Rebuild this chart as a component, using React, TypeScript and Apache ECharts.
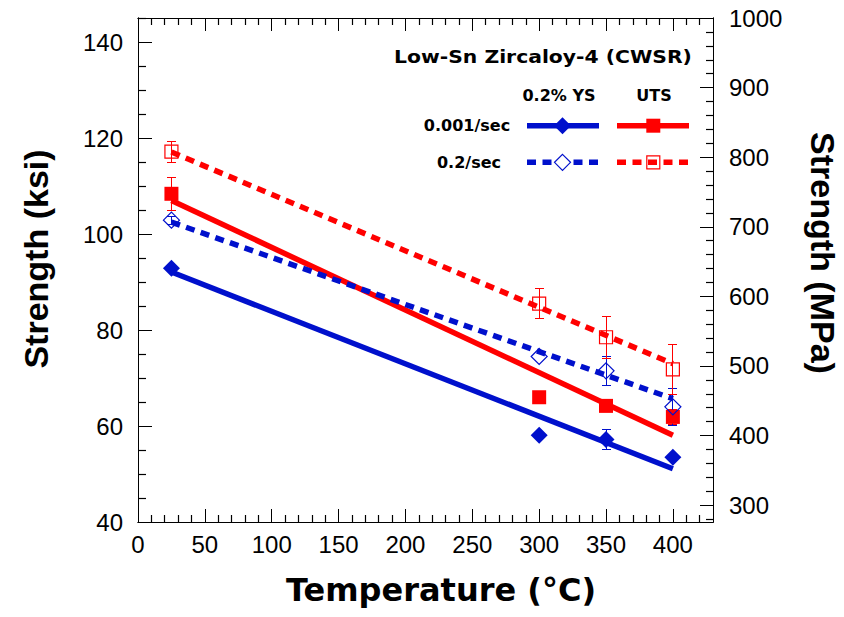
import React, { useEffect, useRef } from 'react';
import * as echarts from 'echarts';

// ---- data ----
const temps = [25, 300, 350, 400];
const ys001 = [92.9, 58.1, 57.2, 53.5];
const uts001 = [108.4, 66.0, 64.2, 61.9];
const ys02 = [102.9, 74.5, 71.5, 64.0];
const uts02 = [117.2, 85.5, 78.5, 71.8];

const ys001Err = [0.6, 0, 2.1, 0];
const uts001Err = [3.4, 0, 0, 1.5];
const ys02Err = [0.8, 0, 3.0, 3.8];
const uts02Err = [2.2, 3.1, 4.4, 5.2];

const fitTemps = [25, 400];
const ys001Fit = [92.1, 51.1];
const uts001Fit = [107.0, 58.1];
const ys02Fit = [102.5, 65.7];
const uts02Fit = [117.1, 73.0];

const xTicks = [0, 50, 100, 150, 200, 250, 300, 350, 400];
const ksiTicks = [40, 60, 80, 100, 120, 140];
const mpaTicks = [300, 400, 500, 600, 700, 800, 900, 1000];

const KSI_TO_MPA = 6.894757;
const KSI_MIN = 40;
const MPA_MAX = 1000;
const KSI_MAX = MPA_MAX / KSI_TO_MPA;
const MPA_MIN = KSI_MIN * KSI_TO_MPA;
const X_MAX = 430;

const BLUE = '#0010cc';
const RED = '#ff0000';
const AXIS = '#000';
const DASH = [9, 6.5];

function steps(from: number, to: number, step: number) {
  const out: number[] = [];
  for (let v = from; v <= to + 1e-9; v += step) out.push(Math.round(v * 1000) / 1000);
  return out;
}

const crisp = (v: number) => Math.round(v - 0.5) + 0.5;

export default function App() {
  const ref = useRef<HTMLDivElement>(null);

  useEffect(() => {
    const chart = echarts.init(ref.current as HTMLDivElement, null, { renderer: 'svg' });

    const xMinor = steps(10, 420, 10).filter((v) => v % 50 !== 0);
    const ksiMinor = steps(45, 145, 5).filter((v) => v % 20 !== 0);
    const mpaMinor = steps(280, 980, 20).filter((v) => v % 100 !== 0);

    const labelStyle = {
      fontFamily: 'Liberation Sans, Arial, sans-serif',
      fontSize: 24,
      color: '#000',
      formatter: (v: number) => String(v),
    };
    const tickLine = { color: AXIS, width: 1 };
    const minorLine = { color: AXIS, width: 1.2 };

    const fitLine = (name: string, vals: number[], color: string, dashed: boolean) => ({
      type: 'line',
      name,
      xAxisIndex: 0,
      yAxisIndex: 0,
      data: fitTemps.map((t, i) => [t, vals[i]]),
      symbol: 'none',
      silent: true,
      z: 2,
      lineStyle: { color, width: 5.5, type: dashed ? DASH : 'solid', cap: 'butt', opacity: 1 },
    });

    const errSeries = (name: string, vals: number[], errs: number[], color: string) => ({
      type: 'custom',
      name,
      xAxisIndex: 0,
      yAxisIndex: 0,
      silent: true,
      z: 3,
      clip: false,
      data: temps.map((t, i) => [t, vals[i], errs[i]]).filter((d) => d[2] > 0),
      encode: { x: 0, y: 1 },
      renderItem: (params: any, api: any) => {
        const x = api.value(0);
        const y = api.value(1);
        const e = api.value(2);
        const top = api.coord([x, y + e]);
        const bot = api.coord([x, y - e]);
        const cx = crisp(top[0]);
        const ty = crisp(top[1]);
        const by = crisp(bot[1]);
        const w = 4.5;
        const st = { stroke: color, lineWidth: 1 };
        return {
          type: 'group',
          children: [
            { type: 'line', shape: { x1: cx, y1: ty, x2: cx, y2: by }, style: st },
            { type: 'line', shape: { x1: cx - w, y1: ty, x2: cx + w, y2: ty }, style: st },
            { type: 'line', shape: { x1: cx - w, y1: by, x2: cx + w, y2: by }, style: st },
          ],
        };
      },
    });

    const scatter = (name: string, vals: number[], symbol: string, size: number, color: string, open: boolean) => ({
      type: 'scatter',
      name,
      xAxisIndex: 0,
      yAxisIndex: 0,
      z: 4,
      silent: true,
      data: temps.map((t, i) => [t, vals[i]]),
      symbol,
      symbolSize: size,
      itemStyle: open
        ? { color: 'rgba(0,0,0,0)', borderColor: color, borderWidth: 1.2, opacity: 1 }
        : { color, opacity: 1 },
    });

    // legend geometry
    const lgL1 = 527, lgL2 = 599, lgR1 = 617, lgR2 = 689;
    const row1 = 125.7, row2 = 162.3;
    const dmX = 562.5, sqX = 653.3;
    const diamond = (cx: number, cy: number, r: number) => [
      [cx, cy - r], [cx + r, cy], [cx, cy + r], [cx - r, cy],
    ];
    const boldFont = { fontFamily: 'DejaVu Sans', fontWeight: 'bold', fill: '#000' };
    const titleFont = { fontFamily: 'Liberation Sans, Arial, sans-serif', fontWeight: 'bold', fill: '#000' };

    const graphic: any[] = [
      { type: 'text', x: 543, y: 57, scaleX: 1.13, style: { ...boldFont, text: 'Low-Sn Zircaloy-4 (CWSR)', fontSize: 18, align: 'center', verticalAlign: 'middle' } },
      { type: 'text', x: 559, y: 95, style: { ...boldFont, text: '0.2% YS', fontSize: 16, align: 'center', verticalAlign: 'middle' } },
      { type: 'text', x: 654, y: 95, style: { ...boldFont, text: 'UTS', fontSize: 16, align: 'center', verticalAlign: 'middle' } },
      { type: 'text', x: 467, y: row1, style: { ...boldFont, text: '0.001/sec', fontSize: 16, align: 'center', verticalAlign: 'middle' } },
      { type: 'text', x: 469, y: row2, style: { ...boldFont, text: '0.2/sec', fontSize: 16, align: 'center', verticalAlign: 'middle' } },
      { type: 'line', shape: { x1: lgL1, y1: row1, x2: lgL2, y2: row1 }, style: { stroke: BLUE, lineWidth: 5.5 } },
      { type: 'polygon', shape: { points: diamond(dmX, row1, 8.5) }, style: { fill: BLUE } },
      { type: 'line', shape: { x1: lgR1, y1: row1, x2: lgR2, y2: row1 }, style: { stroke: RED, lineWidth: 5.5 } },
      { type: 'rect', shape: { x: sqX - 7, y: row1 - 7, width: 14, height: 14 }, style: { fill: RED } },
      { type: 'line', shape: { x1: lgL1, y1: row2, x2: lgL2, y2: row2 }, style: { stroke: BLUE, lineWidth: 5.5, lineDash: DASH } },
      { type: 'polygon', shape: { points: diamond(dmX, row2, 8) }, style: { fill: '#fff', stroke: BLUE, lineWidth: 1.2 } },
      { type: 'line', shape: { x1: lgR1, y1: row2, x2: lgR2, y2: row2 }, style: { stroke: RED, lineWidth: 5.5, lineDash: DASH } },
      { type: 'rect', shape: { x: sqX - 6.5, y: row2 - 6.5, width: 13, height: 13 }, style: { fill: 'rgba(0,0,0,0)', stroke: RED, lineWidth: 1.2 } },
      // axis titles
      { type: 'text', x: 441, y: 590, style: { ...boldFont, text: 'Temperature (°C)', fontSize: 32, align: 'center', verticalAlign: 'middle' } },
      { type: 'text', x: 36, y: 259, rotation: Math.PI / 2, style: { ...titleFont, text: 'Strength (ksi)', fontSize: 34, align: 'center', verticalAlign: 'middle' } },
      { type: 'text', x: 823, y: 253, rotation: -Math.PI / 2, style: { ...titleFont, text: 'Strength (MPa)', fontSize: 34, align: 'center', verticalAlign: 'middle' } },
    ];

    const plainAxis = (position: string, min: number, max: number, ticks: number[], len: number, label: any, line: any) => ({
      type: 'value',
      gridIndex: 0,
      position,
      min,
      max,
      axisLine: { show: true, onZero: false, lineStyle: tickLine },
      axisTick: { show: true, inside: true, length: len, customValues: ticks, lineStyle: line },
      axisLabel: label ? { ...labelStyle, ...label } : { show: false },
      splitLine: { show: false },
    });

    const option: any = {
      animation: false,
      backgroundColor: '#fff',
      grid: { left: 138, top: 18, right: 131, bottom: 95, containLabel: false, outerBoundsMode: 'none' },
      xAxis: [
        plainAxis('bottom', 0, X_MAX, xTicks, 13, { margin: 10, customValues: xTicks }, tickLine),
        plainAxis('bottom', 0, X_MAX, xMinor, 7, null, minorLine),
        plainAxis('top', 0, X_MAX, xTicks, 13, null, tickLine),
        plainAxis('top', 0, X_MAX, xMinor, 7, null, minorLine),
      ],
      yAxis: [
        plainAxis('left', KSI_MIN, KSI_MAX, ksiTicks, 14, { margin: 15, customValues: ksiTicks }, tickLine),
        plainAxis('left', KSI_MIN, KSI_MAX, ksiMinor, 8, null, minorLine),
        plainAxis('right', MPA_MIN, MPA_MAX, mpaTicks, 13, { margin: 16, customValues: mpaTicks }, tickLine),
        plainAxis('right', MPA_MIN, MPA_MAX, mpaMinor, 7, null, minorLine),
      ],
      series: [
        fitLine('YS 0.001/sec fit', ys001Fit, BLUE, false),
        fitLine('UTS 0.001/sec fit', uts001Fit, RED, false),
        fitLine('YS 0.2/sec fit', ys02Fit, BLUE, true),
        fitLine('UTS 0.2/sec fit', uts02Fit, RED, true),
        errSeries('YS 0.001/sec err', ys001, ys001Err, BLUE),
        errSeries('UTS 0.001/sec err', uts001, uts001Err, RED),
        errSeries('YS 0.2/sec err', ys02, ys02Err, BLUE),
        errSeries('UTS 0.2/sec err', uts02, uts02Err, RED),
        scatter('0.2% YS, 0.001/sec', ys001, 'diamond', 17, BLUE, false),
        scatter('UTS, 0.001/sec', uts001, 'rect', 14, RED, false),
        scatter('0.2% YS, 0.2/sec', ys02, 'diamond', 16, BLUE, true),
        scatter('UTS, 0.2/sec', uts02, 'rect', 13, RED, true),
      ],
      graphic,
    };

    chart.setOption(option);
    return () => chart.dispose();
  }, []);

  return (
    <div
      ref={ref}
      style={{ position: 'fixed', left: 0, top: 0, width: 844, height: 617, background: '#fff' }}
    />
  );
}
